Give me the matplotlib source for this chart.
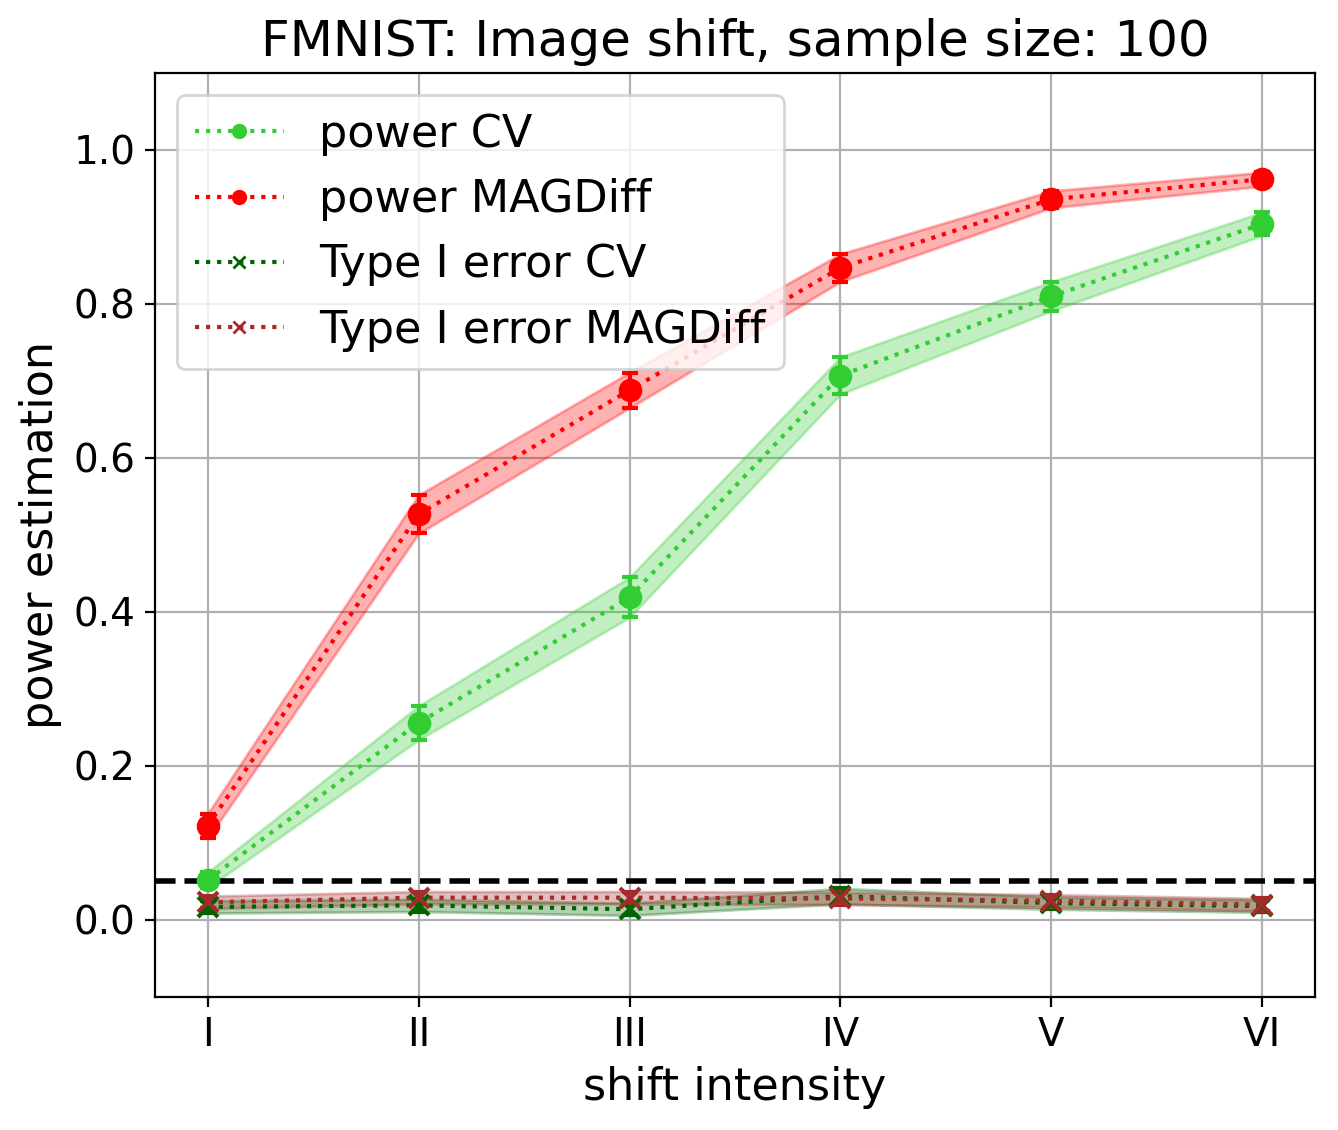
import matplotlib
matplotlib.use("Agg")
import matplotlib.pyplot as plt
import numpy as np

labels = ["I", "II", "III", "IV", "V", "VI"]
power_cv = [0.052, 0.256, 0.419, 0.707, 0.810, 0.904]
power_cv_err = [0.010, 0.022, 0.026, 0.024, 0.019, 0.015]
power_mag = [0.122, 0.527, 0.688, 0.847, 0.936, 0.962]
power_mag_err = [0.016, 0.025, 0.023, 0.018, 0.011, 0.009]
type1_cv = [0.017, 0.019, 0.014, 0.031, 0.022, 0.018]
type1_cv_err = [0.008, 0.008, 0.008, 0.010, 0.008, 0.008]
type1_mag = [0.023, 0.029, 0.029, 0.028, 0.025, 0.020]
type1_mag_err = [0.008, 0.008, 0.008, 0.008, 0.008, 0.008]
alpha_level = 0.05

plt.rcParams['font.family'] = ['DejaVu Sans']
fig = plt.figure(figsize=(6.69, 5.65), dpi=200)
ax = fig.add_axes([0.1158, 0.1177, 0.867, 0.8177])

x = np.arange(len(labels))
series = [
    (power_cv, power_cv_err, 'limegreen', 'o', 'power CV'),
    (power_mag, power_mag_err, 'red', 'o', 'power MAGDiff'),
    (type1_cv, type1_cv_err, 'darkgreen', 'x', 'Type I error CV'),
    (type1_mag, type1_mag_err, 'brown', 'x', 'Type I error MAGDiff'),
]
for vals, err, col, mk, lab in series:
    vals = np.array(vals); err = np.array(err)
    ax.fill_between(x, vals - err, vals + err, color=col, alpha=0.3)
    ax.errorbar(x, vals, yerr=err, fmt=mk, color=col, ms=7, capsize=3,
                elinewidth=1.5, capthick=1.5, mew=1.5)
    ax.plot(x, vals, linestyle=':', color=col, lw=1.5, marker=mk, ms=4.5, label=lab)

ax.axhline(alpha_level, color='black', linestyle='--', lw=2)
ax.set_xticks(x)
ax.set_xticklabels(labels)
ax.set_ylim(-0.1, 1.1)
ax.set_xlim(-0.25, 5.25)
ax.set_yticks([0.0, 0.2, 0.4, 0.6, 0.8, 1.0])
ax.tick_params(labelsize=14)
ax.grid(True)
ax.set_axisbelow(True)
ax.set_xlabel('shift intensity', fontsize=16)
ax.set_ylabel('power estimation', fontsize=16)
ax.set_title('FMNIST: Image shift, sample size: 100', fontsize=18)
ax.legend(loc='upper left', fontsize=16, handlelength=2.0)

fig.savefig('out.png', dpi=200)
